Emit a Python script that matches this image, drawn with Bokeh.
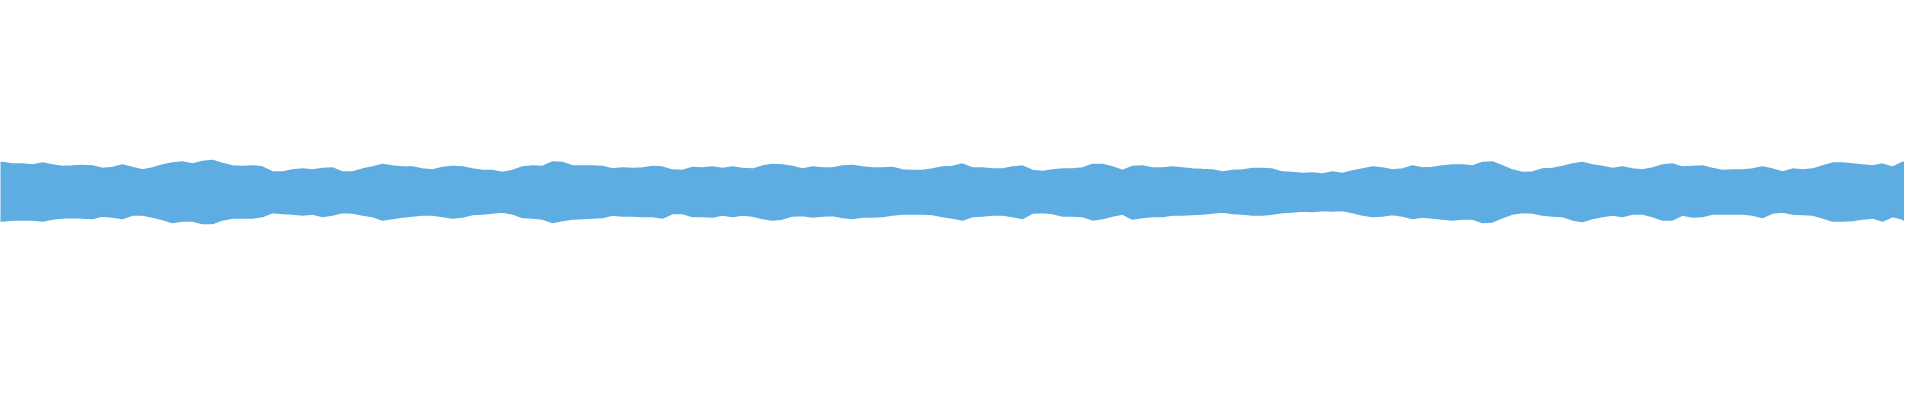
import numpy as np
from bokeh.plotting import figure
from bokeh.embed import file_html
from bokeh.resources import INLINE
from bokeh.models import ColumnDataSource, Range1d

# Waveform envelope (normalised amplitude, full scale = 1), one sample every 0.1 s
top_env = [
    0.147,0.150,0.142,0.143,0.138,0.147,0.138,0.130,0.132,0.135,0.132,0.120,0.125,0.137,0.125,0.112,
    0.123,0.138,0.147,0.152,0.143,0.155,0.160,0.145,0.133,0.130,0.133,0.127,0.103,0.103,0.113,0.117,
    0.112,0.120,0.123,0.102,0.103,0.117,0.127,0.140,0.132,0.127,0.127,0.117,0.112,0.125,0.130,0.127,
    0.117,0.110,0.110,0.100,0.110,0.128,0.132,0.130,0.153,0.150,0.133,0.133,0.133,0.130,0.117,0.123,
    0.120,0.123,0.130,0.127,0.112,0.110,0.125,0.123,0.128,0.120,0.127,0.120,0.117,0.132,0.140,0.137,
    0.130,0.118,0.127,0.122,0.122,0.133,0.135,0.127,0.123,0.122,0.125,0.113,0.110,0.110,0.117,0.127,
    0.130,0.142,0.123,0.123,0.118,0.117,0.127,0.132,0.110,0.105,0.113,0.118,0.118,0.123,0.140,0.140,
    0.128,0.110,0.130,0.133,0.122,0.123,0.127,0.123,0.118,0.115,0.113,0.103,0.110,0.113,0.120,0.120,
    0.117,0.102,0.100,0.095,0.097,0.093,0.103,0.095,0.107,0.117,0.128,0.123,0.112,0.118,0.133,0.123,
    0.125,0.133,0.137,0.138,0.133,0.150,0.153,0.133,0.112,0.100,0.103,0.118,0.120,0.130,0.142,0.150,
    0.137,0.130,0.120,0.127,0.117,0.113,0.123,0.138,0.143,0.127,0.130,0.133,0.120,0.110,0.113,0.113,
    0.118,0.127,0.117,0.103,0.117,0.113,0.117,0.133,0.147,0.147,0.143,0.137,0.133,0.142,0.127,0.150,
    0.163,
]
bottom_env = [
    -0.145,-0.142,-0.137,-0.138,-0.138,-0.143,-0.133,-0.128,-0.125,-0.128,-0.130,-0.117,-0.122,-0.130,-0.113,-0.112,
    -0.123,-0.135,-0.150,-0.143,-0.143,-0.155,-0.155,-0.137,-0.127,-0.127,-0.128,-0.120,-0.100,-0.105,-0.108,-0.113,
    -0.108,-0.120,-0.113,-0.100,-0.103,-0.112,-0.120,-0.138,-0.130,-0.123,-0.117,-0.113,-0.112,-0.120,-0.127,-0.123,
    -0.110,-0.107,-0.103,-0.097,-0.107,-0.125,-0.127,-0.133,-0.150,-0.140,-0.132,-0.130,-0.127,-0.125,-0.112,-0.117,
    -0.117,-0.120,-0.120,-0.128,-0.105,-0.105,-0.120,-0.120,-0.122,-0.112,-0.120,-0.113,-0.117,-0.130,-0.137,-0.132,
    -0.117,-0.115,-0.122,-0.117,-0.115,-0.125,-0.130,-0.123,-0.122,-0.120,-0.113,-0.108,-0.107,-0.107,-0.110,-0.120,
    -0.128,-0.138,-0.120,-0.117,-0.113,-0.113,-0.120,-0.130,-0.103,-0.100,-0.105,-0.117,-0.117,-0.120,-0.137,-0.130,
    -0.117,-0.108,-0.133,-0.125,-0.120,-0.120,-0.113,-0.113,-0.110,-0.107,-0.103,-0.097,-0.105,-0.108,-0.113,-0.113,
    -0.108,-0.100,-0.097,-0.093,-0.095,-0.090,-0.093,-0.090,-0.100,-0.112,-0.120,-0.117,-0.110,-0.117,-0.130,-0.123,
    -0.127,-0.133,-0.137,-0.133,-0.133,-0.150,-0.147,-0.125,-0.108,-0.100,-0.103,-0.113,-0.117,-0.120,-0.137,-0.145,
    -0.130,-0.120,-0.113,-0.120,-0.107,-0.108,-0.120,-0.138,-0.137,-0.113,-0.123,-0.120,-0.108,-0.107,-0.108,-0.108,
    -0.113,-0.125,-0.103,-0.097,-0.107,-0.110,-0.113,-0.127,-0.143,-0.143,-0.140,-0.133,-0.127,-0.143,-0.120,-0.133,
    -0.158,
]
# sample times (s): every 0.1 s, last sample at 19.17 s
times = [round(i * 0.1, 2) for i in range(192)] + [19.17]

WAVE_COLOR = "#5dade2"

src = ColumnDataSource(dict(t=times, top=top_env, bottom=bottom_env))

p = figure(width=1904, height=384, output_backend="svg", toolbar_location=None,
           x_range=Range1d(0.08, 19.12), y_range=Range1d(-0.96, 0.96),
           min_border=0, min_border_left=0, min_border_right=0,
           min_border_top=0, min_border_bottom=0)
p.varea(x="t", y1="bottom", y2="top", source=src, fill_color=WAVE_COLOR, fill_alpha=1.0)
p.line(x="t", y="top", source=src, line_color=WAVE_COLOR, line_width=1.5)
p.line(x="t", y="bottom", source=src, line_color=WAVE_COLOR, line_width=1.5)

p.axis.visible = False
p.grid.visible = False
p.outline_line_color = None
p.background_fill_color = "white"
p.border_fill_color = "white"

open("out.html", "w").write(file_html(p, INLINE))
